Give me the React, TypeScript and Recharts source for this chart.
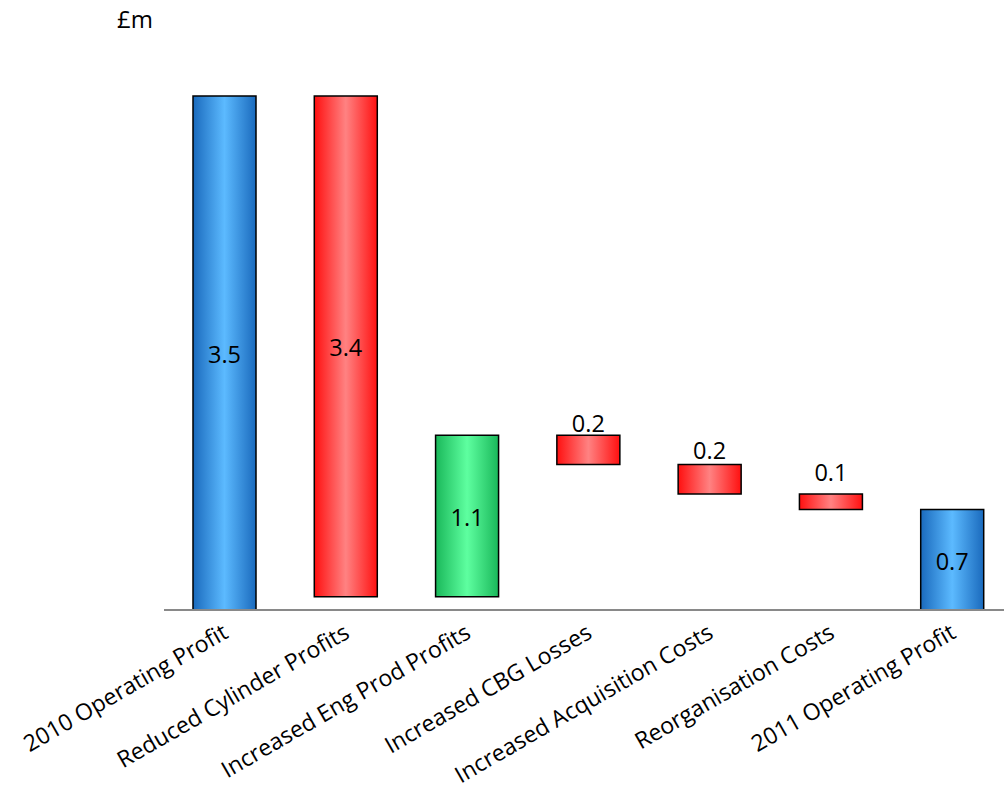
import React from "react";
import { BarChart, Bar, XAxis, YAxis, Cell, LabelList } from "recharts";

const categories = [
  "2010 Operating Profit",
  "Reduced Cylinder Profits",
  "Increased Eng Prod Profits",
  "Increased CBG Losses",
  "Increased Acquisition Costs",
  "Reorganisation Costs",
  "2011 Operating Profit",
];
const lows = [0, 0.09, 0.09, 0.99, 0.79, 0.685, 0];
const highs = [3.5, 3.5, 1.19, 1.19, 0.99, 0.79, 0.685];
const labels = ["3.5", "3.4", "1.1", "0.2", "0.2", "0.1", "0.7"];
const kinds = ["total", "down", "up", "down", "down", "down", "total"];

const data = categories.map((name, i) => ({
  name,
  range: [lows[i], highs[i]],
  label: labels[i],
  kind: kinds[i],
}));

// label gap above small bars (style only)
const smallLabelGap = [0, 0, 0, 3, 6, 13, 0];

const FONT = "'Open Sans', Lato, sans-serif";

const fillFor: Record<string, string> = {
  total: "url(#gBlue)",
  down: "url(#gRed)",
  up: "url(#gGreen)",
};

const CatTick = (props: any) => {
  const { x, y, payload } = props;
  const ax = x + 5;
  const ay = y + 19;
  return (
    <text
      x={ax}
      y={ay}
      textAnchor="end"
      transform={`rotate(-30, ${ax}, ${ay})`}
      fontSize={23}
      fontFamily={FONT}
      fill="#000"
    >
      {payload.value}
    </text>
  );
};

const ValueLabel = (props: any) => {
  const { x, y, width, height, value, index } = props;
  const h = Math.abs(height);
  const top = Math.min(y, y + height);
  const cx = x + width / 2;
  if (h < 40) {
    return (
      <text x={cx} y={top - (smallLabelGap[index] ?? 4)} textAnchor="middle" fontSize={23.5} fontFamily={FONT} fill="#000">
        {value}
      </text>
    );
  }
  return (
    <text
      x={cx}
      y={top + h / 2 + 1}
      textAnchor="middle"
      dominantBaseline="central"
      fontSize={23.5}
      fontFamily={FONT}
      fill="#000"
    >
      {value}
    </text>
  );
};

export default function App() {
  return (
    <div
      style={{
        position: "absolute",
        left: 0,
        top: 0,
        width: 1004,
        height: 791,
        overflow: "hidden",
        background: "#fff",
      }}
    >
      <div
        style={{
          position: "absolute",
          left: 117,
          top: 2,
          fontFamily: FONT,
          fontSize: 24,
          color: "#000",
        }}
      >
        £m
      </div>
      <BarChart
        width={1014}
        height={791}
        data={data}
        margin={{ top: 96, right: 1, left: 164, bottom: 0 }}
        barSize={63}
      >
        <defs>
          <linearGradient id="gBlue" x1="0" y1="0" x2="1" y2="0">
            <stop offset="0%" stopColor="#1a6abd" />
            <stop offset="50%" stopColor="#5cbaff" />
            <stop offset="100%" stopColor="#1a6abd" />
          </linearGradient>
          <linearGradient id="gRed" x1="0" y1="0" x2="1" y2="0">
            <stop offset="0%" stopColor="#ff1010" />
            <stop offset="50%" stopColor="#ff8282" />
            <stop offset="100%" stopColor="#ff1010" />
          </linearGradient>
          <linearGradient id="gGreen" x1="0" y1="0" x2="1" y2="0">
            <stop offset="0%" stopColor="#1ab85a" />
            <stop offset="50%" stopColor="#5effa0" />
            <stop offset="100%" stopColor="#1ab85a" />
          </linearGradient>
        </defs>
        <XAxis
          dataKey="name"
          interval={0}
          height={181}
          tickLine={false}
          axisLine={{ stroke: "#898989", strokeWidth: 2 }}
          tick={<CatTick />}
        />
        <YAxis hide domain={[0, 3.5]} />
        <Bar dataKey="range" isAnimationActive={false} stroke="#000" strokeWidth={1.5}>
          {data.map((d, i) => (
            <Cell key={i} fill={fillFor[d.kind]} />
          ))}
          <LabelList dataKey="label" content={<ValueLabel />} />
        </Bar>
      </BarChart>
    </div>
  );
}
